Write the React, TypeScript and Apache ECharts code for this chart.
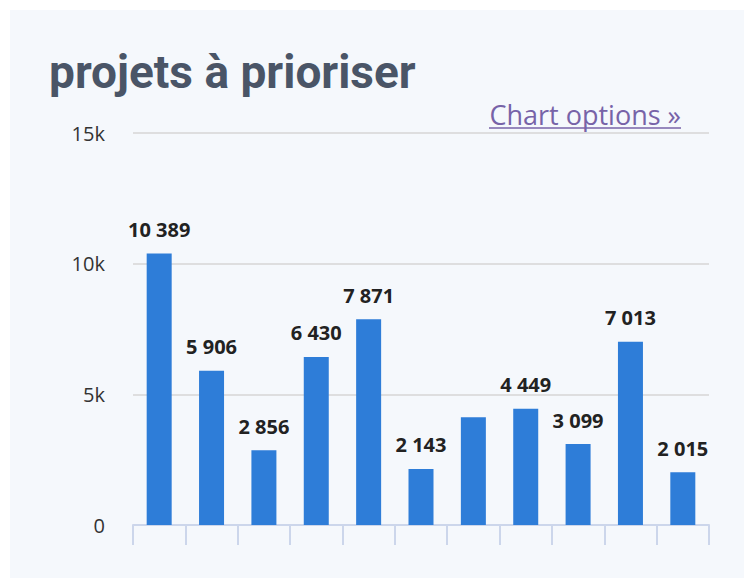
import React, { useEffect, useRef } from "react";
import * as echarts from "echarts";

const categories = ["1", "2", "3", "4", "5", "6", "7", "8", "9", "10", "11"];
const values = [10389, 5906, 2856, 6430, 7871, 2143, 4120, 4449, 3099, 7013, 2015];
const showLabel = [true, true, true, true, true, true, false, true, true, true, true];
const yTicks = [0, 5000, 10000, 15000];

const fmt = (v: number) => String(Math.round(v)).replace(/\B(?=(\d{3})+(?!\d))/g, " ");

export default function App() {
  const ref = useRef<HTMLDivElement>(null);
  useEffect(() => {
    if (!ref.current) return;
    const chart = echarts.init(ref.current, undefined, { renderer: "svg" });
    chart.setOption({
      animation: false,
      backgroundColor: "#f5f8fc",
      title: {
        text: "projets à prioriser",
        left: 39,
        top: 39,
        padding: 0,
        textStyle: {
          fontFamily: "Roboto",
          fontWeight: "bold",
          fontSize: 46,
          color: "#4a5567",
        },
      },
      graphic: [
        {
          type: "text",
          right: 63,
          top: 91,
          style: {
            text: "Chart options »",
            fontFamily: "Open Sans",
            fontSize: 27,
            fill: "#7763a8",
          },
        },
        {
          type: "line",
          shape: { x1: 479, y1: 118, x2: 671, y2: 118 },
          style: { stroke: "#7763a8", lineWidth: 1.5 },
        },
      ],
      grid: { left: 123, right: 35, top: 123, bottom: 53 },
      xAxis: {
        type: "category",
        data: categories,
        axisLabel: { show: false },
        axisLine: { lineStyle: { color: "#ccd6eb", width: 2 } },
        axisTick: { show: true, length: 20, interval: 0, lineStyle: { color: "#ccd6eb", width: 2 } },
      },
      yAxis: {
        type: "value",
        min: yTicks[0],
        max: yTicks[yTicks.length - 1],
        interval: yTicks[1] - yTicks[0],
        axisLabel: {
          margin: 28,
          fontFamily: "Open Sans",
          fontSize: 20,
          color: "#333333",
          formatter: (v: number) => (v === 0 ? "0" : v / 1000 + "k"),
        },
        splitLine: { lineStyle: { color: "#d6d6d6", width: 1.5 } },
        axisLine: { show: false },
        axisTick: { show: false },
      },
      series: [
        {
          type: "bar",
          barWidth: 25,
          itemStyle: { color: "#2e7dd8" },
          data: values.map((v, i) => ({
            value: v,
            label: { show: showLabel[i] },
          })),
          label: {
            show: true,
            position: "top",
            distance: 14,
            fontFamily: "Open Sans",
            fontWeight: "bold",
            fontSize: 20,
            color: "#222222",
            formatter: (p: any) => fmt(p.value),
          },
        },
      ],
    });
    return () => chart.dispose();
  }, []);
  return (
    <div style={{ position: "absolute", left: 0, top: 0, width: 744, height: 578, background: "#ffffff" }}>
      <div ref={ref} style={{ position: "absolute", left: 10, top: 10, width: 734, height: 568 }} />
    </div>
  );
}
